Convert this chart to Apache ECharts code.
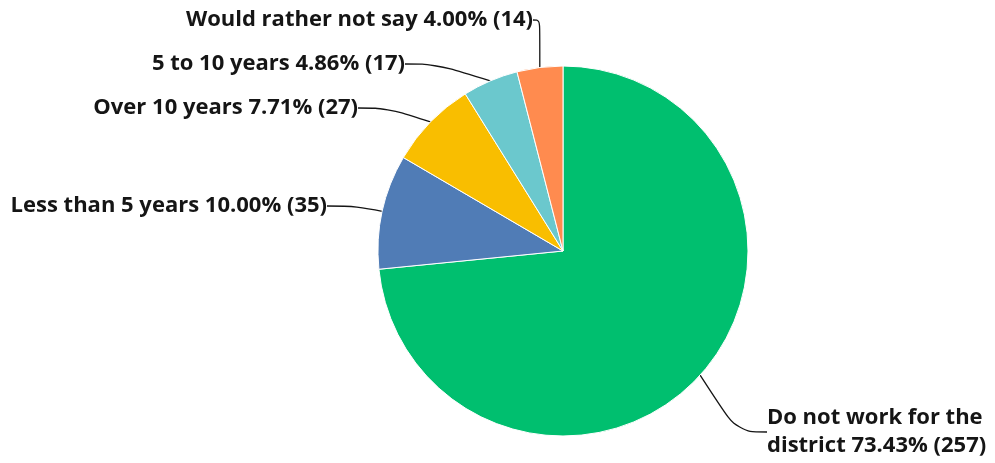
<!DOCTYPE html>
<html>
<head>
<meta charset="utf-8">
<script src="https://cdn.jsdelivr.net/npm/echarts@6/dist/echarts.min.js"></script>
<style>
  html, body { margin: 0; padding: 0; background: #ffffff; }
  #chart { width: 995px; height: 463px; }
</style>
</head>
<body>
<div id="chart"></div>
<script>
// Survey answers and their response counts
const categories = [
  'Do not work for the district',
  'Less than 5 years',
  'Over 10 years',
  '5 to 10 years',
  'Would rather not say'
];
const counts = [257, 35, 27, 17, 14];
const colors = ['#00BF6F', '#507CB6', '#F9BE00', '#6BC8CD', '#FF8B4F'];

const total = counts.reduce((a, b) => a + b, 0);

// Where each label's text sits (anchor x, vertical centre y, alignment)
const labelSpots = [
  { x: 767, y: 432, align: 'left' },
  { x: 327, y: 206, align: 'right' },
  { x: 358, y: 108, align: 'right' },
  { x: 405, y: 64, align: 'right' },
  { x: 533, y: 20, align: 'right' }
];

const chart = echarts.init(document.getElementById('chart'), null, { renderer: 'canvas' });

chart.setOption({
  animation: false,
  backgroundColor: '#ffffff',
  series: [{
    type: 'pie',
    center: [563, 251],
    radius: 185,
    startAngle: 90,
    clockwise: true,
    avoidLabelOverlap: false,
    itemStyle: { borderColor: '#ffffff', borderWidth: 1 },
    label: {
      show: true,
      color: '#151515',
      fontFamily: 'Open Sans',
      fontWeight: 'bold',
      fontSize: 22,
      lineHeight: 28,
      formatter: p => `${p.name} ${(p.value / total * 100).toFixed(2)}% (${p.value})`
    },
    labelLine: {
      show: true,
      smooth: 0.4,
      length: 20,
      length2: 30,
      lineStyle: { color: '#151515', width: 1.3 }
    },
    labelLayout: params => {
      const s = labelSpots[params.dataIndex];
      return { x: s.x, y: s.y, align: s.align, verticalAlign: 'middle' };
    },
    data: categories.map((name, i) => ({
      name,
      value: counts[i],
      itemStyle: { color: colors[i] },
      label: i === 0 ? { width: 235, overflow: 'break' } : {}
    }))
  }]
});
</script>
</body>
</html>
